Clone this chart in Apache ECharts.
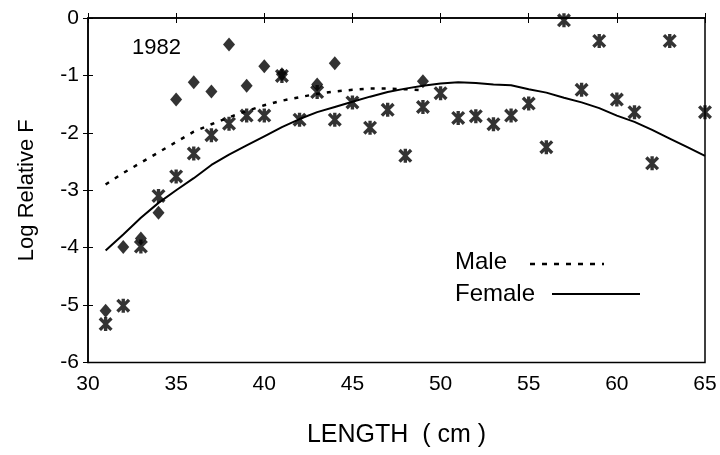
<!DOCTYPE html>
<html>
<head>
<meta charset="utf-8">
<script src="https://cdn.jsdelivr.net/npm/echarts@6/dist/echarts.min.js"></script>
<style>
html,body{margin:0;padding:0;background:#fff;}
#chart{width:720px;height:455px;}
</style>
</head>
<body>
<div id="chart"></div>
<script>
// Observed points: asterisks
const starLengths = [31,32,33,34,35,36,37,38,39,40,41,42,43,44,45,46,47,48,49,50,51,52,53,54,55,56,57,58,59,60,61,62,63,65];
const starValues  = [-5.33,-5.01,-3.98,-3.10,-2.76,-2.36,-2.04,-1.84,-1.70,-1.70,-1.01,-1.77,-1.29,-1.77,-1.47,-1.91,-1.60,-2.40,-1.55,-1.31,-1.74,-1.71,-1.85,-1.70,-1.49,-2.25,-0.04,-1.25,-0.40,-1.42,-1.64,-2.53,-0.40,-1.64];
// Observed points: diamonds
const diamondLengths = [31,32,33,34,35,36,37,38,39,40,41,43,44,49];
const diamondValues  = [-5.10,-3.99,-3.84,-3.39,-1.42,-1.12,-1.28,-0.46,-1.18,-0.84,-0.98,-1.16,-0.79,-1.10];
// Fitted curves
const maleLengths = [31,32,33,34,35,36,37,38,39,40,41,42,43,44,45,46,47,48,49];
const maleValues  = [-2.90,-2.70,-2.52,-2.34,-2.16,-1.98,-1.85,-1.73,-1.62,-1.52,-1.44,-1.38,-1.32,-1.28,-1.25,-1.23,-1.23,-1.24,-1.26];
const femaleLengths = [31,32,33,34,35,36,37,38,39,40,41,42,43,44,45,46,47,48,49,50,51,52,53,54,55,56,57,58,59,60,61,62,63,64,65];
const femaleValues  = [-4.05,-3.77,-3.48,-3.22,-3.00,-2.79,-2.56,-2.38,-2.22,-2.06,-1.90,-1.76,-1.64,-1.55,-1.46,-1.37,-1.29,-1.23,-1.18,-1.14,-1.12,-1.13,-1.16,-1.17,-1.24,-1.30,-1.39,-1.47,-1.57,-1.70,-1.81,-1.95,-2.10,-2.25,-2.40];
const xTicks = [30,35,40,45,50,55,60,65];
const yTicks = [0,-1,-2,-3,-4,-5,-6];

const zip = (a,b) => a.map((v,i)=>[v,b[i]]);
const FONT = 'Liberation Sans, Arial, sans-serif';
const starPath = 'path://M3.8 0 H6.2 V10 H3.8 Z M0 1.7 L1.7 0 L10 8.3 L8.3 10 Z M8.3 0 L10 1.7 L1.7 10 L0 8.3 Z';

const chart = echarts.init(document.getElementById('chart'), null, {renderer:'canvas'});
chart.setOption({
  animation:false,
  backgroundColor:'#fff',
  grid:{left:88, right:15, top:18, bottom:92.5, show:true, borderColor:'#000', borderWidth:1.5, backgroundColor:'transparent'},
  xAxis:[{
    type:'value', min:xTicks[0], max:xTicks[xTicks.length-1], interval:5,
    name:'LENGTH  ( cm )', nameLocation:'middle', nameGap:60,
    nameTextStyle:{fontFamily:FONT, fontSize:25, color:'#000'},
    axisLine:{show:true, lineStyle:{color:'#000', width:1.5}},
    axisTick:{show:true, length:5, lineStyle:{color:'#000', width:1}},
    axisLabel:{fontFamily:FONT, fontSize:21, color:'#000', margin:11},
    splitLine:{show:false}
  },{
    type:'value', min:30, max:65, interval:5, position:'bottom',
    axisLine:{show:false}, axisLabel:{show:false},
    axisTick:{show:true, inside:true, length:5, lineStyle:{color:'#000', width:1}},
    splitLine:{show:false}
  }],
  yAxis:[{
    type:'value', min:yTicks[yTicks.length-1], max:yTicks[0], interval:1,
    name:'Log Relative F', nameLocation:'middle', nameGap:50, nameRotate:90,
    nameTextStyle:{fontFamily:FONT, fontSize:22, color:'#000'},
    axisLine:{show:true, lineStyle:{color:'#000', width:1.5}},
    axisTick:{show:true, length:5, lineStyle:{color:'#000', width:1}},
    axisLabel:{fontFamily:FONT, fontSize:21, color:'#000', margin:9},
    splitLine:{show:false}
  },{
    type:'value', min:-6, max:0, interval:1, position:'left',
    axisLine:{show:false}, axisLabel:{show:false},
    axisTick:{show:true, inside:true, length:5, lineStyle:{color:'#000', width:1}},
    splitLine:{show:false}
  }],
  series:[
    {name:'Male', type:'line', data:zip(maleLengths, maleValues), showSymbol:false, smooth:false,
     lineStyle:{color:'#000', width:2.5, type:[4,7]}, z:2},
    {name:'Female', type:'line', data:zip(femaleLengths, femaleValues), showSymbol:false, smooth:false,
     lineStyle:{color:'#000', width:2}, z:2},
    {name:'diamonds', type:'scatter', data:zip(diamondLengths, diamondValues), symbol:'diamond', symbolSize:[12,14],
     itemStyle:{color:'#000'}, z:3},
    {name:'stars', type:'scatter', data:zip(starLengths, starValues), symbol:starPath, symbolSize:[14,14],
     itemStyle:{color:'#000'}, z:4}
  ],
  graphic:[
    {type:'text', x:132, y:48, style:{text:'1982', font:'22px '+FONT, fill:'#000', verticalAlign:'middle'}},
    {type:'text', x:455, y:262, style:{text:'Male', font:'24px '+FONT, fill:'#000', verticalAlign:'middle'}},
    {type:'line', shape:{x1:530, y1:264, x2:604, y2:264}, style:{stroke:'#000', lineWidth:2.5, lineDash:[5,7]}},
    {type:'text', x:455, y:294, style:{text:'Female', font:'24px '+FONT, fill:'#000', verticalAlign:'middle'}},
    {type:'line', shape:{x1:552, y1:294, x2:640, y2:294}, style:{stroke:'#000', lineWidth:2}}
  ]
});
</script>
</body>
</html>
